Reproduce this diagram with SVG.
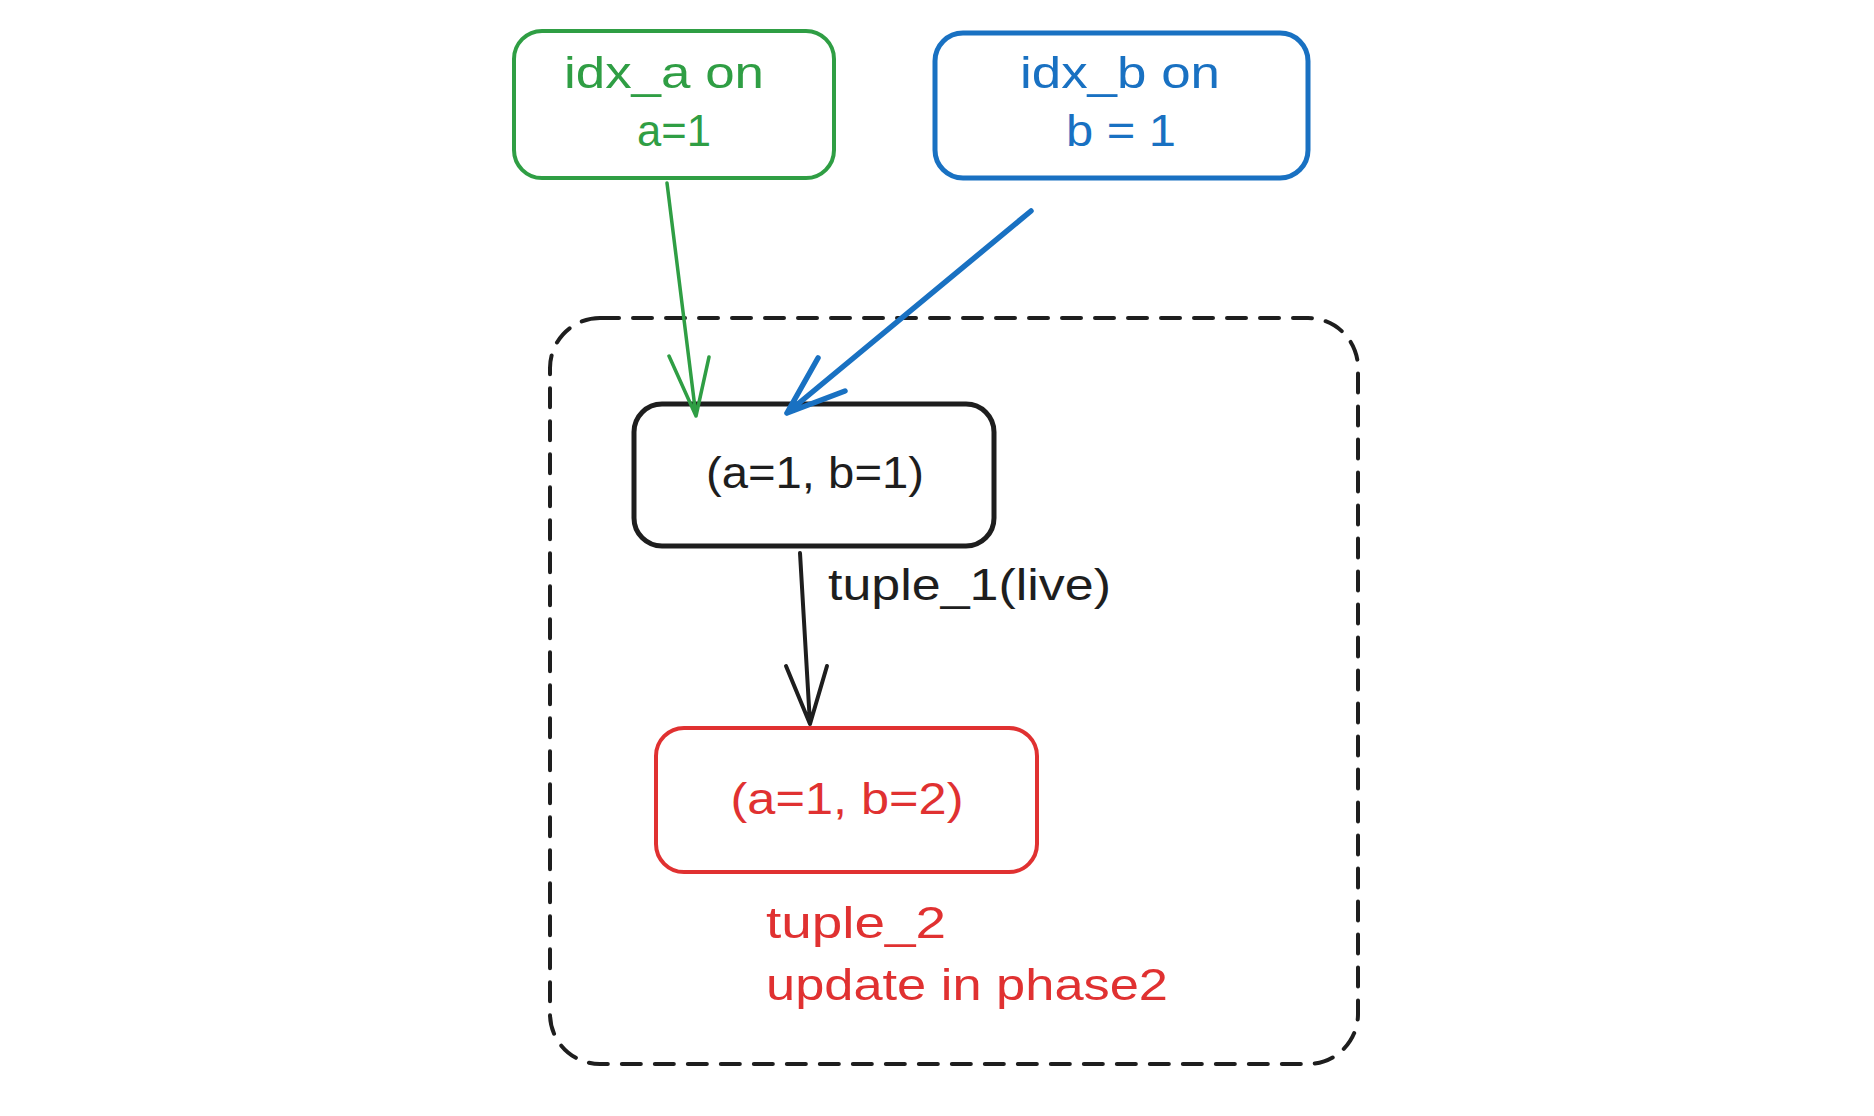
<svg xmlns="http://www.w3.org/2000/svg" width="1874" height="1116" viewBox="0 0 1874 1116">
<style>
text{font-family:"Liberation Sans","DejaVu Sans",sans-serif;font-size:44px;text-anchor:middle;dominant-baseline:central}
.box{fill:none;stroke-linecap:round;stroke-linejoin:round}
.g{stroke:#2f9e44;fill:none}
.b{stroke:#1971c2;fill:none}
.k{stroke:#1e1e1e;fill:none}
.r{stroke:#e03131;fill:none}
</style>
<rect width="1874" height="1116" fill="#ffffff"/>
<g id="container">
<rect x="550" y="318" width="808" height="746" rx="50" ry="50" fill="none" stroke="#1e1e1e" stroke-width="4" stroke-dasharray="19 14" stroke-linecap="round"/>
</g>
<g id="idx_a">
<rect class="box g" x="514" y="31" width="320" height="147" rx="28" stroke-width="4"/>
<text x="664" y="72" fill="#2f9e44" textLength="200" lengthAdjust="spacingAndGlyphs">idx_a on</text>
<text x="674" y="130" fill="#2f9e44" textLength="74" lengthAdjust="spacingAndGlyphs">a=1</text>
</g>
<g id="idx_b">
<rect class="box b" x="935" y="33" width="373" height="145" rx="28" stroke-width="5"/>
<text x="1120" y="72" fill="#1971c2" textLength="200" lengthAdjust="spacingAndGlyphs">idx_b on</text>
<text x="1121" y="130" fill="#1971c2" textLength="110" lengthAdjust="spacingAndGlyphs">b = 1</text>
</g>
<g id="tuple1">
<rect class="box k" x="634" y="404" width="360" height="142" rx="28" stroke-width="5"/>
<text x="815" y="472" fill="#1e1e1e" textLength="218" lengthAdjust="spacingAndGlyphs">(a=1, b=1)</text>
</g>
<g id="tuple2">
<rect class="box r" x="656" y="728" width="381" height="144" rx="28" stroke-width="4"/>
<text x="847" y="798" fill="#e03131" textLength="233" lengthAdjust="spacingAndGlyphs">(a=1, b=2)</text>
</g>
<g id="connectors" stroke-linecap="round" stroke-linejoin="round" fill="none">
<path class="g" stroke-width="3.5" d="M667 183 L696 416 M669 356 L696 416 L709 357"/>
<path class="b" stroke-width="5.5" d="M1031 211 L787 413 M818 358 L787 413 L845 391"/>
<path class="k" stroke-width="4" d="M800 553 L810 724 M786 666 L810 724 L827 666"/>
</g>
<g id="labels">
<text x="828" y="584" fill="#1e1e1e" style="text-anchor:start" textLength="283" lengthAdjust="spacingAndGlyphs">tuple_1(live)</text>
<text x="766" y="922" fill="#e03131" style="text-anchor:start" textLength="180" lengthAdjust="spacingAndGlyphs">tuple_2</text>
<text x="766" y="984" fill="#e03131" style="text-anchor:start" textLength="402" lengthAdjust="spacingAndGlyphs">update in phase2</text>
</g>
</svg>
